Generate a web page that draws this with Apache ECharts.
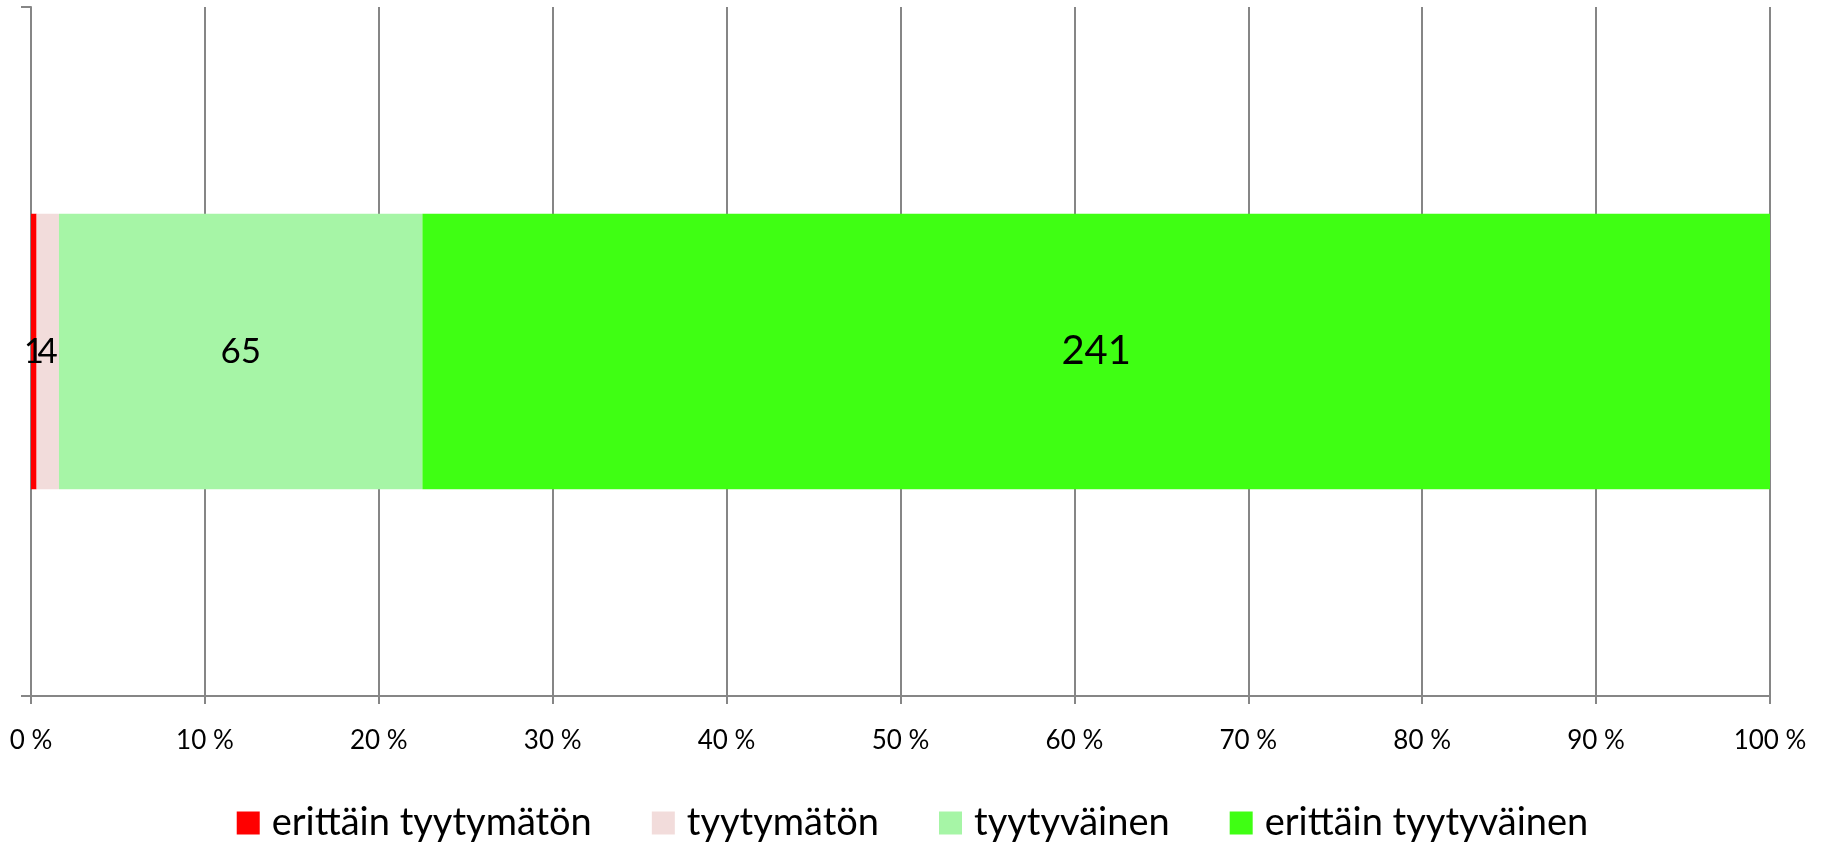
<!DOCTYPE html>
<html><head><meta charset="utf-8">
<script src="https://cdn.jsdelivr.net/npm/echarts@6/dist/echarts.min.js"></script>
<style>html,body{margin:0;padding:0;background:#fff}#c{width:1825px;height:844px}</style>
</head><body><div id="c"></div>
<script>
const categories = [''];
const seriesNames = ['erittäin tyytymätön', 'tyytymätön', 'tyytyväinen', 'erittäin tyytyväinen'];
const values = [1, 4, 65, 241];
const colors = ['#FF0000', '#F2DCDB', '#A6F5A6', '#3FFF13'];
const labelSizes = [35, 35, 35, 40];
const xTicks = [0, 10, 20, 30, 40, 50, 60, 70, 80, 90, 100];

const total = values.reduce((a, b) => a + b, 0);
const FONT = 'Lato, "Open Sans", sans-serif';
const chart = echarts.init(document.getElementById('c'));
chart.setOption({
  animation: false,
  grid: { left: 31, right: 55, top: 7, bottom: 148 },
  xAxis: {
    type: 'value', min: 0, max: 100, interval: 10,
    axisLine: { show: true, lineStyle: { color: '#868686', width: 2 } },
    axisTick: { show: true, length: 8, lineStyle: { color: '#868686', width: 2 } },
    splitLine: { show: true, lineStyle: { color: '#868686', width: 2 } },
    axisLabel: { margin: 32, fontSize: 26, color: '#000', fontFamily: FONT,
      formatter: v => xTicks.includes(v) ? v + ' %' : '' }
  },
  yAxis: {
    type: 'category', data: categories,
    axisLine: { show: true, lineStyle: { color: '#868686', width: 2 } },
    axisTick: { show: true, length: 10, lineStyle: { color: '#868686', width: 2 } },
    axisLabel: { show: false }
  },
  legend: {
    top: 803, left: 'center', padding: 0, itemWidth: 23, itemHeight: 23, itemGap: 60,
    icon: 'rect',
    textStyle: { fontSize: 38, lineHeight: 40, color: '#000', fontFamily: FONT, padding: [0, 0, 0, 7] },
    data: seriesNames
  },
  series: seriesNames.map((name, i) => ({
    name, type: 'bar', stack: 'total', barWidth: '40%',
    itemStyle: { color: colors[i] },
    label: { show: true, position: 'inside', color: '#000', fontSize: labelSizes[i], fontFamily: FONT,
      formatter: () => String(values[i]) },
    data: [values[i] / total * 100]
  }))
});
</script></body></html>
